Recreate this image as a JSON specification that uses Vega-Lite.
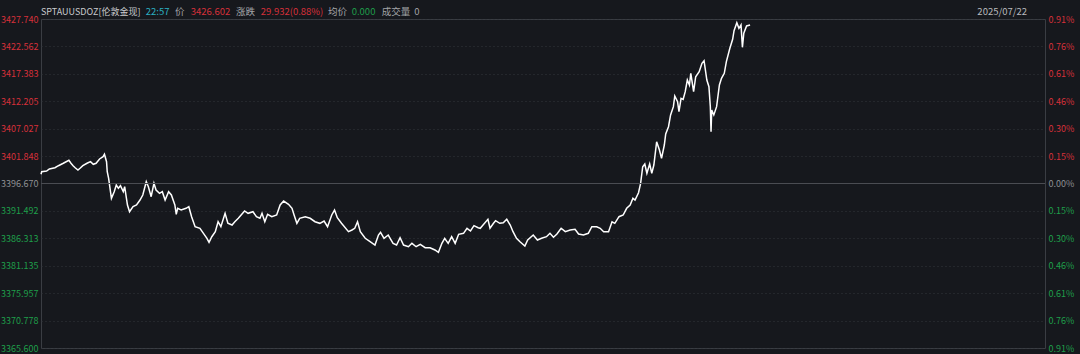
{
  "$schema": "https://vega.github.io/schema/vega-lite/v6.json",
  "autosize": {"type": "none"},
  "width": 1004,
  "height": 329,
  "padding": {"left": 41, "top": 19, "right": 35, "bottom": 6},
  "background": "#16181d",
  "config": {
    "view": {"stroke": "#3a3d43", "strokeWidth": 1},
    "font": "Noto Sans CJK SC",
    "text": {"font": "Noto Sans CJK SC"}
  },
  "data": {
    "values": [
      {"minute": 0, "price": 3398.41}, {"minute": 1, "price": 3398.90}, {"minute": 8, "price": 3399.03}, {"minute": 12, "price": 3399.41},
      {"minute": 20, "price": 3399.65}, {"minute": 25, "price": 3400.03}, {"minute": 32, "price": 3400.49}, {"minute": 40, "price": 3401.05},
      {"minute": 43, "price": 3400.49}, {"minute": 46, "price": 3400.03}, {"minute": 49, "price": 3399.65}, {"minute": 53, "price": 3399.22},
      {"minute": 56, "price": 3399.54}, {"minute": 60, "price": 3400.03}, {"minute": 66, "price": 3400.49}, {"minute": 71, "price": 3400.79},
      {"minute": 75, "price": 3400.30}, {"minute": 79, "price": 3400.49}, {"minute": 84, "price": 3401.30}, {"minute": 89, "price": 3401.73},
      {"minute": 91, "price": 3402.19}, {"minute": 94, "price": 3400.79}, {"minute": 95, "price": 3398.90}, {"minute": 97, "price": 3397.65},
      {"minute": 99, "price": 3395.76}, {"minute": 101, "price": 3393.87}, {"minute": 105, "price": 3395.12}, {"minute": 108, "price": 3396.39},
      {"minute": 111, "price": 3395.76}, {"minute": 114, "price": 3396.25}, {"minute": 118, "price": 3395.12}, {"minute": 120, "price": 3396.07},
      {"minute": 124, "price": 3392.61}, {"minute": 127, "price": 3391.34}, {"minute": 132, "price": 3392.29}, {"minute": 137, "price": 3392.61},
      {"minute": 142, "price": 3393.55}, {"minute": 146, "price": 3394.50}, {"minute": 151, "price": 3397.01}, {"minute": 154, "price": 3396.07},
      {"minute": 158, "price": 3394.18}, {"minute": 162, "price": 3396.71}, {"minute": 165, "price": 3395.44}, {"minute": 170, "price": 3394.82},
      {"minute": 174, "price": 3395.12}, {"minute": 178, "price": 3393.55}, {"minute": 183, "price": 3395.12}, {"minute": 187, "price": 3394.50},
      {"minute": 192, "price": 3392.61}, {"minute": 194, "price": 3390.85}, {"minute": 196, "price": 3391.98}, {"minute": 201, "price": 3391.66},
      {"minute": 208, "price": 3391.98}, {"minute": 212, "price": 3392.29}, {"minute": 216, "price": 3390.40}, {"minute": 221, "price": 3388.51},
      {"minute": 228, "price": 3388.21}, {"minute": 233, "price": 3387.26}, {"minute": 238, "price": 3386.32}, {"minute": 241, "price": 3385.56},
      {"minute": 245, "price": 3386.62}, {"minute": 250, "price": 3387.57}, {"minute": 254, "price": 3389.45}, {"minute": 258, "price": 3388.51},
      {"minute": 264, "price": 3391.04}, {"minute": 268, "price": 3389.15}, {"minute": 274, "price": 3388.83}, {"minute": 278, "price": 3389.45},
      {"minute": 283, "price": 3390.10}, {"minute": 292, "price": 3391.48}, {"minute": 297, "price": 3391.04}, {"minute": 304, "price": 3391.34},
      {"minute": 309, "price": 3390.40}, {"minute": 314, "price": 3390.10}, {"minute": 317, "price": 3391.04}, {"minute": 321, "price": 3389.45},
      {"minute": 325, "price": 3390.85}, {"minute": 331, "price": 3390.40}, {"minute": 338, "price": 3390.72}, {"minute": 343, "price": 3392.61},
      {"minute": 348, "price": 3393.36}, {"minute": 355, "price": 3392.74}, {"minute": 360, "price": 3391.98}, {"minute": 363, "price": 3390.72},
      {"minute": 367, "price": 3389.15}, {"minute": 371, "price": 3390.10}, {"minute": 379, "price": 3390.40}, {"minute": 386, "price": 3390.10},
      {"minute": 393, "price": 3389.45}, {"minute": 400, "price": 3389.15}, {"minute": 406, "price": 3389.59}, {"minute": 411, "price": 3388.51},
      {"minute": 417, "price": 3390.72}, {"minute": 421, "price": 3391.66}, {"minute": 425, "price": 3390.21}, {"minute": 431, "price": 3389.15},
      {"minute": 441, "price": 3387.57}, {"minute": 446, "price": 3387.89}, {"minute": 450, "price": 3388.21}, {"minute": 454, "price": 3389.45},
      {"minute": 458, "price": 3387.57}, {"minute": 465, "price": 3386.32}, {"minute": 472, "price": 3385.68}, {"minute": 479, "price": 3385.05},
      {"minute": 484, "price": 3386.94}, {"minute": 487, "price": 3387.45}, {"minute": 492, "price": 3386.32}, {"minute": 498, "price": 3386.94},
      {"minute": 505, "price": 3385.37}, {"minute": 510, "price": 3385.05}, {"minute": 515, "price": 3386.43}, {"minute": 520, "price": 3385.05},
      {"minute": 527, "price": 3384.73}, {"minute": 532, "price": 3385.37}, {"minute": 538, "price": 3384.73}, {"minute": 544, "price": 3385.19},
      {"minute": 551, "price": 3384.54}, {"minute": 558, "price": 3384.54}, {"minute": 565, "price": 3384.11}, {"minute": 570, "price": 3383.67},
      {"minute": 575, "price": 3385.37}, {"minute": 579, "price": 3386.32}, {"minute": 584, "price": 3385.37}, {"minute": 589, "price": 3386.62},
      {"minute": 594, "price": 3385.37}, {"minute": 599, "price": 3387.07}, {"minute": 606, "price": 3387.26}, {"minute": 611, "price": 3388.21},
      {"minute": 616, "price": 3387.70}, {"minute": 621, "price": 3388.70}, {"minute": 627, "price": 3388.32}, {"minute": 630, "price": 3388.21},
      {"minute": 634, "price": 3388.83}, {"minute": 641, "price": 3389.91}, {"minute": 644, "price": 3388.21}, {"minute": 649, "price": 3389.15},
      {"minute": 652, "price": 3389.64}, {"minute": 658, "price": 3389.15}, {"minute": 663, "price": 3389.27}, {"minute": 668, "price": 3389.91},
      {"minute": 673, "price": 3388.83}, {"minute": 677, "price": 3387.57}, {"minute": 682, "price": 3386.32}, {"minute": 687, "price": 3385.68},
      {"minute": 694, "price": 3384.86}, {"minute": 698, "price": 3386.00}, {"minute": 706, "price": 3386.94}, {"minute": 712, "price": 3386.00},
      {"minute": 718, "price": 3386.32}, {"minute": 725, "price": 3386.62}, {"minute": 730, "price": 3387.26}, {"minute": 735, "price": 3386.51},
      {"minute": 740, "price": 3387.13}, {"minute": 746, "price": 3388.21}, {"minute": 752, "price": 3387.57}, {"minute": 759, "price": 3387.89},
      {"minute": 766, "price": 3388.02}, {"minute": 771, "price": 3387.13}, {"minute": 778, "price": 3386.94}, {"minute": 785, "price": 3387.26},
      {"minute": 790, "price": 3388.51}, {"minute": 797, "price": 3388.51}, {"minute": 802, "price": 3388.21}, {"minute": 807, "price": 3387.57},
      {"minute": 814, "price": 3387.57}, {"minute": 819, "price": 3389.45}, {"minute": 823, "price": 3389.15}, {"minute": 829, "price": 3390.40},
      {"minute": 835, "price": 3390.72}, {"minute": 840, "price": 3391.98}, {"minute": 845, "price": 3392.61}, {"minute": 849, "price": 3393.87},
      {"minute": 852, "price": 3393.55}, {"minute": 857, "price": 3394.93}, {"minute": 860, "price": 3396.71}, {"minute": 863, "price": 3399.84},
      {"minute": 866, "price": 3400.35}, {"minute": 869, "price": 3398.60}, {"minute": 873, "price": 3400.35}, {"minute": 876, "price": 3398.60},
      {"minute": 879, "price": 3400.16}, {"minute": 883, "price": 3404.56}, {"minute": 887, "price": 3403.00}, {"minute": 890, "price": 3401.43},
      {"minute": 894, "price": 3403.94}, {"minute": 896, "price": 3406.02}, {"minute": 900, "price": 3407.40}, {"minute": 903, "price": 3409.61},
      {"minute": 907, "price": 3411.18}, {"minute": 909, "price": 3413.20}, {"minute": 913, "price": 3412.12}, {"minute": 915, "price": 3410.23},
      {"minute": 918, "price": 3412.76}, {"minute": 921, "price": 3412.57}, {"minute": 924, "price": 3414.01}, {"minute": 927, "price": 3416.22},
      {"minute": 930, "price": 3415.27}, {"minute": 932, "price": 3417.48}, {"minute": 936, "price": 3414.01}, {"minute": 939, "price": 3416.84},
      {"minute": 944, "price": 3417.79}, {"minute": 948, "price": 3419.37}, {"minute": 951, "price": 3419.86}, {"minute": 955, "price": 3416.22},
      {"minute": 958, "price": 3414.95}, {"minute": 960, "price": 3411.18}, {"minute": 961, "price": 3406.45}, {"minute": 962, "price": 3410.55},
      {"minute": 965, "price": 3409.61}, {"minute": 969, "price": 3411.18}, {"minute": 973, "price": 3415.27}, {"minute": 976, "price": 3416.54},
      {"minute": 980, "price": 3417.48}, {"minute": 983, "price": 3419.68}, {"minute": 988, "price": 3422.21}, {"minute": 992, "price": 3423.91},
      {"minute": 994, "price": 3425.53}, {"minute": 998, "price": 3427.04}, {"minute": 1001, "price": 3425.98}, {"minute": 1004, "price": 3426.61},
      {"minute": 1006, "price": 3422.39}, {"minute": 1008, "price": 3425.04}, {"minute": 1012, "price": 3426.42}, {"minute": 1017, "price": 3426.602}
    ]
  },
  "resolve": {"axis": {"y": "independent"}},
  "layer": [
    {
      "mark": {"type": "line", "color": "#ffffff", "strokeWidth": 1.5, "interpolate": "linear"},
      "encoding": {
        "x": {
          "field": "minute", "type": "quantitative",
          "scale": {"domain": [0, 1440], "nice": false, "zero": false},
          "axis": {"title": null, "labels": false, "ticks": false, "domain": false, "grid": true,
                   "values": [120, 240, 360, 480, 600, 720, 840, 960, 1080, 1200, 1320],
                   "gridColor": "#33363d", "gridDash": [1, 3], "gridWidth": 1}
        },
        "y": {
          "field": "price", "type": "quantitative",
          "scale": {"domain": [3365.6, 3427.74], "nice": false, "zero": false},
          "axis": {
            "orient": "left", "title": null, "ticks": false, "domain": false, "grid": true,
            "values": [3365.6, 3370.778, 3375.957, 3381.135, 3386.313, 3391.492, 3396.67, 3401.848, 3407.027, 3412.205, 3417.383, 3422.562, 3427.74],
            "format": ".3f", "labelFont": "Noto Sans CJK SC", "labelFontSize": 9, "labelPadding": 3,
            "labelOverlap": false, "labelFlush": false, "labelBound": false,
            "gridColor": "#33363d", "gridDash": [1, 3], "gridWidth": 1,
            "labelColor": {"condition": [
              {"test": "datum.value > 3396.7", "value": "#d7303a"},
              {"test": "datum.value < 3396.6", "value": "#1e9e4a"}
            ], "value": "#8f9094"}
          }
        }
      }
    },
    {
      "data": {"values": [{}]},
      "mark": {"type": "rule", "color": "#4a4c52", "strokeWidth": 1},
      "encoding": {
        "y": {
          "datum": 3396.67, "type": "quantitative",
          "axis": {
            "orient": "right", "title": null, "ticks": false, "domain": false, "grid": false,
            "values": [3365.6, 3370.778, 3375.957, 3381.135, 3386.313, 3391.492, 3396.67, 3401.848, 3407.027, 3412.205, 3417.383, 3422.562, 3427.74],
            "labelExpr": "format(abs(datum.value - 3396.67) / 3396.67 * 100, '.2f') + '%'",
            "labelFont": "Noto Sans CJK SC", "labelFontSize": 9, "labelPadding": 3,
            "labelOverlap": false, "labelFlush": false, "labelBound": false,
            "labelColor": {"condition": [
              {"test": "datum.value > 3396.7", "value": "#d7303a"},
              {"test": "datum.value < 3396.6", "value": "#1e9e4a"}
            ], "value": "#8f9094"}
          }
        }
      }
    },
    {
      "data": {"values": [{}]},
      "mark": {"type": "text", "text": "SPTAUUSDOZ[伦敦金现]", "align": "left", "baseline": "middle", "fontSize": 9, "color": "#c9cacd"},
      "encoding": {"x": {"datum": 0, "type": "quantitative", "axis": null}, "y": {"datum": 3429.12, "type": "quantitative", "axis": null}}
    },
    {
      "data": {"values": [{}]},
      "mark": {"type": "text", "text": "22:57", "align": "left", "baseline": "middle", "fontSize": 9.5, "color": "#2bb0c2"},
      "encoding": {"x": {"datum": 150.2, "type": "quantitative", "axis": null}, "y": {"datum": 3429.12, "type": "quantitative", "axis": null}}
    },
    {
      "data": {"values": [{}]},
      "mark": {"type": "text", "text": "价", "align": "left", "baseline": "middle", "fontSize": 9.5, "color": "#a3a4a8"},
      "encoding": {"x": {"datum": 192.2, "type": "quantitative", "axis": null}, "y": {"datum": 3429.12, "type": "quantitative", "axis": null}}
    },
    {
      "data": {"values": [{}]},
      "mark": {"type": "text", "text": "3426.602", "align": "left", "baseline": "middle", "fontSize": 9.5, "color": "#d7303a"},
      "encoding": {"x": {"datum": 214.7, "type": "quantitative", "axis": null}, "y": {"datum": 3429.12, "type": "quantitative", "axis": null}}
    },
    {
      "data": {"values": [{}]},
      "mark": {"type": "text", "text": "涨跌", "align": "left", "baseline": "middle", "fontSize": 9.5, "color": "#a3a4a8"},
      "encoding": {"x": {"datum": 279.7, "type": "quantitative", "axis": null}, "y": {"datum": 3429.12, "type": "quantitative", "axis": null}}
    },
    {
      "data": {"values": [{}]},
      "mark": {"type": "text", "text": "29.932(0.88%)", "align": "left", "baseline": "middle", "fontSize": 9.5, "color": "#d7303a"},
      "encoding": {"x": {"datum": 315.1, "type": "quantitative", "axis": null}, "y": {"datum": 3429.12, "type": "quantitative", "axis": null}}
    },
    {
      "data": {"values": [{}]},
      "mark": {"type": "text", "text": "均价", "align": "left", "baseline": "middle", "fontSize": 9.5, "color": "#a3a4a8"},
      "encoding": {"x": {"datum": 411.6, "type": "quantitative", "axis": null}, "y": {"datum": 3429.12, "type": "quantitative", "axis": null}}
    },
    {
      "data": {"values": [{}]},
      "mark": {"type": "text", "text": "0.000", "align": "left", "baseline": "middle", "fontSize": 9.5, "color": "#1e9e4a"},
      "encoding": {"x": {"datum": 445.6, "type": "quantitative", "axis": null}, "y": {"datum": 3429.12, "type": "quantitative", "axis": null}}
    },
    {
      "data": {"values": [{}]},
      "mark": {"type": "text", "text": "成交量", "align": "left", "baseline": "middle", "fontSize": 9.5, "color": "#a3a4a8"},
      "encoding": {"x": {"datum": 488.7, "type": "quantitative", "axis": null}, "y": {"datum": 3429.12, "type": "quantitative", "axis": null}}
    },
    {
      "data": {"values": [{}]},
      "mark": {"type": "text", "text": "0", "align": "left", "baseline": "middle", "fontSize": 9.5, "color": "#a3a4a8"},
      "encoding": {"x": {"datum": 535.4, "type": "quantitative", "axis": null}, "y": {"datum": 3429.12, "type": "quantitative", "axis": null}}
    },
    {
      "data": {"values": [{}]},
      "mark": {"type": "text", "text": "2025/07/22", "align": "right", "baseline": "middle", "fontSize": 9.5, "color": "#b9babe"},
      "encoding": {"x": {"datum": 1414.2, "type": "quantitative", "axis": null}, "y": {"datum": 3429.12, "type": "quantitative", "axis": null}}
    }
  ]
}
